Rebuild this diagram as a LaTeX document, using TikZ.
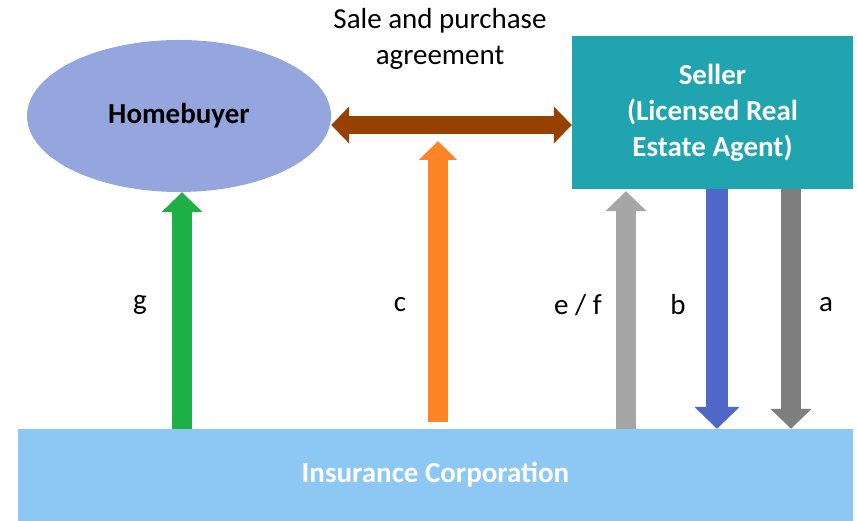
\documentclass[tikz,border=0pt]{standalone}
\usepackage{fontspec}
\setmainfont{Carlito}
\usetikzlibrary{arrows.meta,positioning,shapes.geometric}

\definecolor{buyerblue}{RGB}{149,166,222}
\definecolor{sellerteal}{RGB}{32,164,175}
\definecolor{insblue}{RGB}{141,200,245}
\definecolor{dealbrown}{RGB}{150,65,0}
\definecolor{payorange}{RGB}{255,132,38}
\definecolor{paygreen}{RGB}{30,175,70}
\definecolor{paylight}{RGB}{166,166,166}
\definecolor{payblue}{RGB}{78,103,200}
\definecolor{paydark}{RGB}{127,127,127}

\begin{document}
\begin{tikzpicture}[
    x=1pt, y=1pt,
    font=\fontsize{29}{36}\selectfont,
    party/.style={inner sep=0pt, align=center, font=\fontsize{29}{36}\selectfont\bfseries},
    flow/.style={line width=20pt, -{Triangle[width=40pt,length=20pt]}},
    lbl/.style={inner sep=0pt}
  ]
    \useasboundingbox (0,0) rectangle (858,521);

    \node[party, ellipse, fill=buyerblue, minimum width=304pt, minimum height=152pt] (buyer) at (179,405) {Homebuyer};
    \node[party, rectangle, fill=sellerteal, text=white, minimum width=281pt, minimum height=153pt] (seller) at (712.5,408.5) {Seller\\(Licensed Real\\Estate Agent)};
    \node[party, rectangle, fill=insblue, text=white, minimum width=835pt, minimum height=92pt] (ins) at (435.5,46) {Insurance Corporation};

    \node[lbl, align=center] (agree) at (440,482) {Sale and purchase\\agreement};

    % helper points for the arrows
    \coordinate (deal) at (0,396);
    \coordinate (ctop) at (438,380);
    \coordinate (efx) at (626,0);
    \coordinate (bx) at (717,0);
    \coordinate (ax) at (791,0);

    \draw[dealbrown, line width=18pt, {Triangle[width=36pt,length=18pt]}-{Triangle[width=36pt,length=18pt]}]
      (deal -| buyer.east) -- (deal -| seller.west);
    \draw[flow, paygreen] ([xshift=3pt]buyer.south |- ins.north) -- ([xshift=3pt]buyer.south);
    \draw[flow, payorange, -{Triangle[width=37pt,length=19pt]}] ([yshift=7pt]ins.north -| ctop) -- (ctop);
    \draw[flow, paylight] (ins.north -| efx) -- ([yshift=-2pt]seller.south -| efx);
    \draw[flow, payblue, line width=22pt, -{Triangle[width=44pt,length=22pt]}] (seller.south -| bx) -- (ins.north -| bx);
    \draw[flow, paydark] (seller.south -| ax) -- (ins.north -| ax);

    \node[lbl] (g) at (140,216) {g};
    \node[lbl] (c) at (400,216) {c};
    \node[lbl] (ef) at (578,216) {e / f};
    \node[lbl] (b) at (678,216) {b};
    \node[lbl] (a) at (826,216) {a};
\end{tikzpicture}
\end{document}
